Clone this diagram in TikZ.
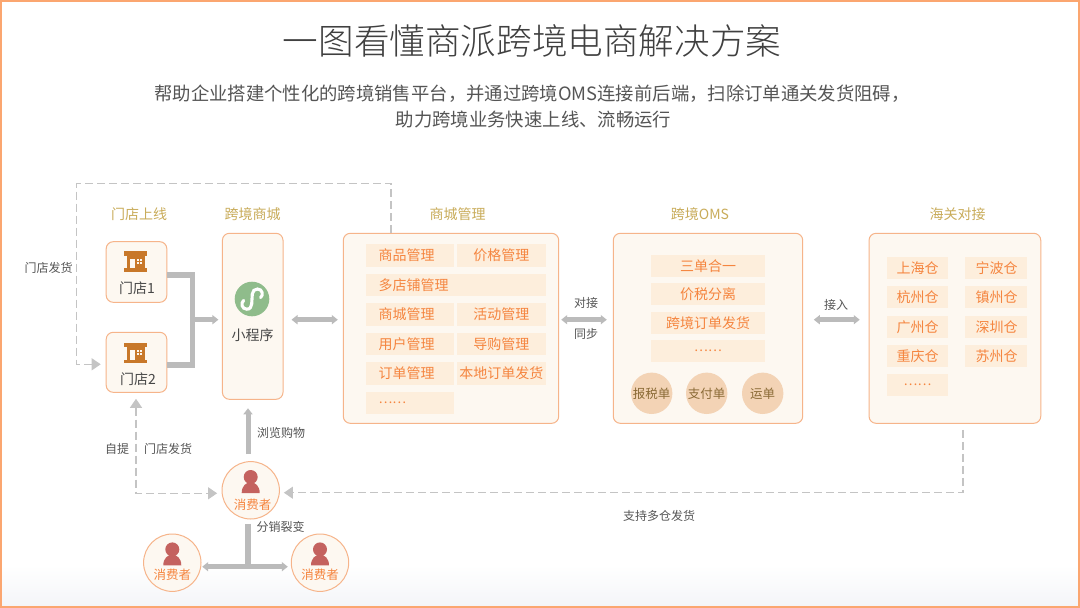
\documentclass[tikz,border=0pt]{standalone}
\usepackage{fontspec}
\setmainfont{Noto Sans CJK SC}
\newfontfamily\lightcjk{Noto Sans CJK SC Light}
\usetikzlibrary{arrows.meta,calc}
\definecolor{edgeo}{HTML}{F6B48A}
\definecolor{pagee}{HTML}{FBA670}
\definecolor{boxf}{HTML}{FDF8F1}
\definecolor{cellf}{HTML}{FDEEDC}
\definecolor{orangeT}{HTML}{F5853F}
\definecolor{goldT}{HTML}{C9AC5A}
\definecolor{grayL}{HTML}{BBBBBB}
\definecolor{grayD}{HTML}{C4C4C4}
\definecolor{grayT}{HTML}{555555}
\definecolor{shop}{HTML}{C8782A}
\definecolor{person}{HTML}{C4625F}
\definecolor{greenI}{HTML}{8FBC8B}
\definecolor{billf}{HTML}{F3D3B5}
\definecolor{billT}{HTML}{8A6A35}
\definecolor{floorf}{HTML}{F4F5F8}
\tikzset{
  x=1pt,y=-1pt,
  panel/.style={draw=edgeo,fill=boxf,line width=1pt,rounded corners=7pt,inner sep=0pt},
  circ/.style={circle,draw=edgeo,fill=boxf,line width=1pt,minimum size=57.4pt,inner sep=0pt},
  cell/.style={fill=cellf,text=orangeT,font=\fontsize{14}{14}\selectfont,inner ysep=0pt,minimum height=22.4pt,inner xsep=0pt},
  cellL/.style={cell,inner xsep=12.8pt,text width=62.7pt,align=left},
  cellC/.style={cell,minimum width=88.7pt},
  cellO/.style={cell,minimum width=114pt},
  cellH/.style={cell,minimum width=61.3pt},
  bill/.style={circle,fill=billf,text=billT,minimum size=41.4pt,inner sep=0pt,font=\fontsize{12.5}{12.5}\selectfont},
  sect/.style={text=goldT,font=\fontsize{14}{14}\selectfont,inner sep=0pt},
  note/.style={text=grayT,font=\fontsize{12}{12}\selectfont,inner sep=0pt},
  conT/.style={text=orangeT,font=\fontsize{12.5}{12.5}\selectfont,inner sep=0pt},
  darkT/.style={text=black!72,font=\fontsize{14}{14}\selectfont,inner sep=0pt},
  thickline/.style={draw=grayL,line width=5pt},
  thickarrow/.style={thickline,-{Triangle[width=9pt,length=6pt]}},
  thickboth/.style={thickline,{Triangle[width=9pt,length=6pt]}-{Triangle[width=9pt,length=6pt]}},
  dashline/.style={draw=grayD,line width=1.1pt,dash pattern=on 8pt off 4pt},
  pics/personicon/.style={code={
    \fill[person] (0,-13.3) circle (7);
    \fill[person] (-9,2.7) .. controls (-9,-4.5) and (-4.5,-8) .. (0,-8) .. controls (4.5,-8) and (9,-4.5) .. (9,2.7) -- cycle;
  }},
  pics/shopicon/.style={code={
    \fill[shop] (-11.4,-10.4) rectangle (11.4,-6);
    \fill[shop] (-9,-6) rectangle (9,7);
    \fill[shop] (-11.4,6.5) rectangle (11.4,10.2);
    \fill[boxf] (-5.8,-3) rectangle (-0.8,6.5);
    \foreach \i in {0,1}{\foreach \j in {0,1}{
      \fill[boxf] (1.3+\i*2.8,-3+\j*2.8) rectangle ++(2,2);}}
  }},
}
\begin{document}
\begin{tikzpicture}
\useasboundingbox (0,0) rectangle (1080,608);
\fill[white] (0,0) rectangle (1080,608);
\shade[top color=white,bottom color=floorf] (1,565) rectangle (1078,606);
\draw[pagee,line width=2.2pt] (1,1.2) rectangle (1078.8,606.8);

% texts: heading
\node[inner sep=0pt,text=black!75,font=\lightcjk\fontsize{35.6}{36}\selectfont] (ttl) at (532,41) {一图看懂商派跨境电商解决方案};
\node[inner sep=0pt,text=grayT,font=\fontsize{18.35}{18}\selectfont] (sub1) at (532,94) {帮助企业搭建个性化的跨境销售平台，并通过跨境OMS连接前后端，扫除订单通关发货阻碍，};
\node[inner sep=0pt,text=grayT,font=\fontsize{18.35}{18}\selectfont] (sub2) at (533.5,120) {助力跨境业务快速上线、流畅运行};

% panels
\node[panel,minimum width=60.6pt,minimum height=60.6pt] (s1) at (136.5,272) {};
\node[panel,minimum width=60.6pt,minimum height=60pt] (s2) at (136.5,362.3) {};
\node[panel,minimum width=60.6pt,minimum height=166pt] (mall) at (252.7,316.3) {};
\node[panel,minimum width=215.4pt,minimum height=190pt] (mgmt) at (451,328.3) {};
\node[panel,minimum width=189.4pt,minimum height=190pt] (oms) at (708,328.3) {};
\node[panel,minimum width=171.7pt,minimum height=190pt] (hg) at (954.9,328.3) {};

% consumers
\node[circ] (c0) at (250.7,490.3) {};
\node[circ] (c1) at (172.3,562.7) {};
\node[circ] (c2) at (320,562.7) {};
\pic at (c0) {personicon};
\pic at (c1) {personicon};
\pic at (c2) {personicon};
\node[conT] (c0t) at (252.5,504.5) {消费者};
\node[conT] (c1t) at (172.3,574.5) {消费者};
\node[conT] (c2t) at (320,574.5) {消费者};

% section titles
\node[sect] (t1) at (139,214) {门店上线};
\node[sect] (t2) at (252.5,214) {跨境商城};
\node[sect] (t3) at (457.5,214) {商城管理};
\node[sect] (t4) at (700,214) {跨境OMS};
\node[sect] (t5) at (957.5,214) {海关对接};

% shops
\pic at (135.8,261.8) {shopicon};
\pic at (135.8,353.2) {shopicon};
\node[darkT] (s1t) at (137,288.5) {门店1};
\node[darkT] (s2t) at (138,379) {门店2};

% mini program
\node[circle,fill=greenI,minimum size=34.6pt,inner sep=0pt] (mp) at (252,299) {};
\draw[white,line width=3.1pt,line cap=round] (243.6,300.4) .. controls (240.6,303) and (241.8,309.2) .. (246.8,309.2) .. controls (250.2,309.2) and (251.3,306.8) .. (251.7,304) -- (252.3,294) .. controls (252.6,291) and (254.5,289) .. (257.5,289) .. controls (262.5,289) and (263.6,295.2) .. (260.6,297.6);
\node[darkT] (mpt) at (252.5,335) {小程序};

% mgmt cells
\node[cellL] (m11) at (409.85,255.5) {商品管理};
\node[cellC] (m12) at (501.35,255.5) {价格管理};
\node[cell,inner xsep=12.8pt,text width=154.4pt,align=left] (m2) at (455.7,285) {多店铺管理};
\node[cellL] (m31) at (409.85,314.5) {商城管理};
\node[cellC] (m32) at (501.35,314.5) {活动管理};
\node[cellL] (m41) at (409.85,344) {用户管理};
\node[cellC] (m42) at (501.35,344) {导购管理};
\node[cellL] (m51) at (409.85,373.5) {订单管理};
\node[cellC] (m52) at (501.35,373.5) {本地订单发货};
\node[cellL] (m61) at (409.85,402.8) {\fontsize{13}{13}\selectfont ……};

% oms cells
\node[cellO] (o1) at (708,265.8) {三单合一};
\node[cellO] (o2) at (708,294.2) {价税分离};
\node[cellO] (o3) at (708,322.8) {跨境订单发货};
\node[cellO] (o4) at (708,351.2) {\fontsize{13}{13}\selectfont ……};
\node[bill] (b1) at (651.7,393.3) {报税单};
\node[bill] (b2) at (706.7,393.3) {支付单};
\node[bill] (b3) at (762.7,393.3) {运单};

% customs cells
\node[cellH] (h11) at (917.5,268) {上海仓};
\node[cellH] (h21) at (917.5,297.2) {杭州仓};
\node[cellH] (h31) at (917.5,326.8) {广州仓};
\node[cellH] (h41) at (917.5,356.2) {重庆仓};
\node[cellH] (h51) at (917.5,384.7) {\fontsize{13}{13}\selectfont ……};
\node[cellH] (h12) at (996,268) {\hspace{1.2pt}宁波仓};
\node[cellH] (h22) at (996,297.2) {\hspace{1.2pt}镇州仓};
\node[cellH] (h32) at (996,326.8) {\hspace{1.2pt}深圳仓};
\node[cellH] (h42) at (996,356.2) {\hspace{1.2pt}苏州仓};

% notes
\node[note] (n1) at (48.5,268) {门店发货};
\node[note] (n2) at (117,449) {自提};
\node[note] (n3) at (168,449) {门店发货};
\node[note] (n4) at (281,433) {浏览购物};
\node[note] (n5) at (280.7,527) {分销裂变};
\node[note] (n6) at (659,516) {支持多仓发货};
\node[note] (n7) at (586,303) {对接};
\node[note] (n8) at (586,334) {同步};
\node[note] (n9) at (836,305) {接入};

% coordinates
\coordinate (j) at (192.5,319.7);
\coordinate (top1) at (391,183.3);
\coordinate (top2) at (76.7,183.3);
\coordinate (top3) at (76.7,364.3);
\coordinate (low) at (136,493.3);
\coordinate (hgd) at (963,492.7);
\coordinate (fork) at (248,566.7);

% thick connectors
\draw[thickline,line width=5.5pt] ([yshift=-3pt]s1.east) -| (j);
\draw[thickline,line width=5.5pt] ([yshift=-2.7pt]s2.east) -| (j);
\draw[thickarrow] ([xshift=-2.7pt]j) -- ([xshift=-3.5pt]mall.west |- j);
\draw[thickboth,shorten <=8pt,shorten >=5pt] (mall.east |- j) -- (mgmt.west |- j);
\draw[thickboth,shorten <=2pt,shorten >=6pt] (mgmt.east |- j) -- (oms.west |- j);
\draw[thickboth,shorten <=10.6pt,shorten >=8.8pt] (oms.east |- j) -- (hg.west |- j);
\draw[thickarrow,shorten >=8.5pt] (c0.north -| fork) ++(0,-7) -- (fork |- mall.south);
\draw[thickline,line width=6pt] (c0.south -| fork) ++(0,4.3) -- (fork);
\draw[thickboth,shorten <=0.7pt,shorten >=3pt] (c1.east |- fork) -- (c2.west |- fork);

% dashed connectors
\draw[dashline,-{Triangle[width=12pt,length=9pt]},shorten >=5pt] (top1 |- mgmt.north) -- (top1) -- (top2) -- (top3) -- ([yshift=-2pt]s2.west);
\draw[dashline,{Triangle[width=12pt,length=9pt]}-{Triangle[width=12pt,length=9pt]},shorten <=6pt,shorten >=4.4pt] (s2.south -| low) -- (low) -- (c0.west |- low);
\draw[dashline,-{Triangle[width=12pt,length=9pt]},shorten >=4pt] ([yshift=-6pt]hg.south -| hgd) -- (hgd) -- (c0.east |- hgd);
\end{tikzpicture}
\end{document}
